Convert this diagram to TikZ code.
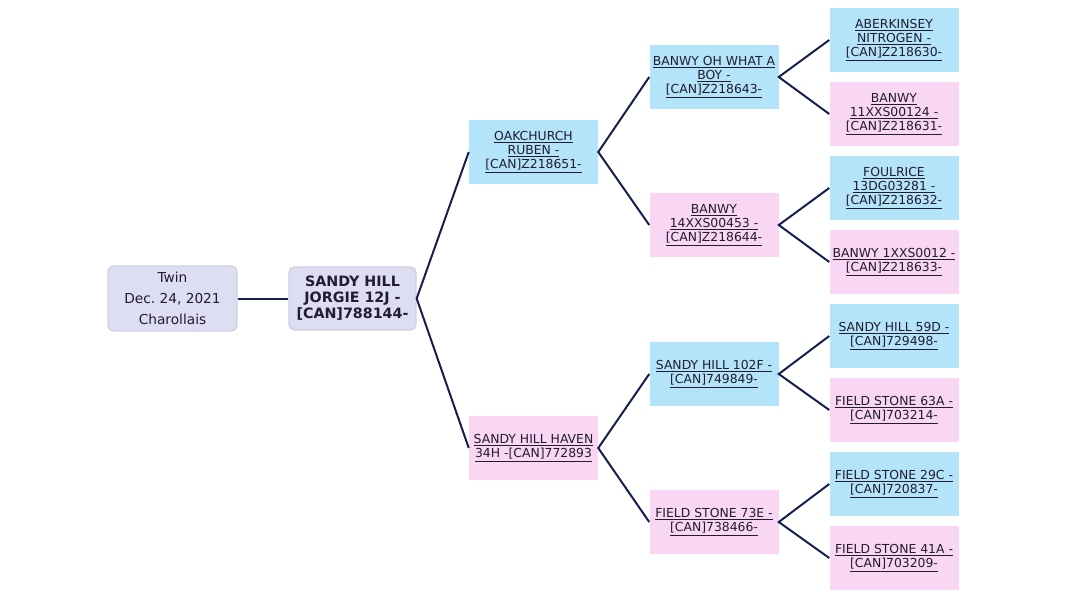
\documentclass[tikz,border=0pt]{standalone}
\usepackage{fontspec}
\setmainfont{DejaVu Sans}
\definecolor{sirecol}{RGB}{180,228,250}
\definecolor{damcol}{RGB}{248,214,244}
\definecolor{rootcol}{RGB}{222,222,242}
\definecolor{rootline}{RGB}{208,208,230}
\definecolor{linkcol}{RGB}{22,32,80}
\definecolor{txtcol}{RGB}{34,28,48}
\newcommand{\ul}[1]{\underline{#1}}
\frenchspacing
\begin{document}
\begin{tikzpicture}[x=0.75pt,y=-0.75pt,
    every node/.style={inner sep=0pt,align=center,text=txtcol},
    animal/.style={minimum width=96.75pt,minimum height=48pt,font=\fontsize{9.3}{10.5}\selectfont},
    sirebox/.style={animal,fill=sirecol},
    dambox/.style={animal,fill=damcol},
    infobox/.style={fill=rootcol,draw=rootline,line width=1pt,rounded corners=4pt},
    link/.style={draw=linkcol,line width=1.5pt}]
  \useasboundingbox (0,0) rectangle (1067,600);

  % subject and its details
  \node[infobox,minimum width=96.75pt,minimum height=48.75pt,font=\fontsize{10.3}{15.75}\selectfont]
    (info) at (172.5,298.5) {Twin\\Dec. 24, 2021\\Charollais};
  \node[infobox,minimum width=95.25pt,minimum height=47.25pt,font=\fontsize{10.7}{12}\selectfont\bfseries]
    (calf) at (352.5,298.5) {SANDY HILL\\JORGIE 12J -\\{[CAN]788144-}};

  % parents
  \node[sirebox] (s) at (533.5,152) {\ul{OAKCHURCH}\\\ul{RUBEN -}\\\ul{[CAN]Z218651-}};
  \node[dambox] (d) at (533.5,448) {\ul{SANDY HILL HAVEN}\\\ul{34H -[CAN]772893}};

  % grandparents
  \node[sirebox] (ss) at (714,77) {\ul{BANWY OH WHAT A}\\\ul{BOY -}\\\ul{[CAN]Z218643-}};
  \node[dambox] (sd) at (714,225) {\ul{BANWY}\\\ul{14XXS00453 -}\\\ul{[CAN]Z218644-}};
  \node[sirebox] (ds) at (714,374) {\ul{SANDY HILL 102F -}\\\ul{[CAN]749849-}};
  \node[dambox] (dd) at (714,522) {\ul{FIELD STONE 73E -}\\\ul{[CAN]738466-}};

  % great grandparents
  \node[sirebox] (sss) at (894,40) {\ul{ABERKINSEY}\\\ul{NITROGEN -}\\\ul{[CAN]Z218630-}};
  \node[dambox] (ssd) at (894,114) {\ul{BANWY}\\\ul{11XXS00124 -}\\\ul{[CAN]Z218631-}};
  \node[sirebox] (sds) at (894,188) {\ul{FOULRICE}\\\ul{13DG03281 -}\\\ul{[CAN]Z218632-}};
  \node[dambox] (sdd) at (894,262) {\ul{BANWY 1XXS0012 -}\\\ul{[CAN]Z218633-}};
  \node[sirebox] (dss) at (894,336) {\ul{SANDY HILL 59D -}\\\ul{[CAN]729498-}};
  \node[dambox] (dsd) at (894,410) {\ul{FIELD STONE 63A -}\\\ul{[CAN]703214-}};
  \node[sirebox] (dds) at (894,484) {\ul{FIELD STONE 29C -}\\\ul{[CAN]720837-}};
  \node[dambox] (ddd) at (894,558) {\ul{FIELD STONE 41A -}\\\ul{[CAN]703209-}};

  % links
  \draw[link] (info.east) -- (calf.west);
  \draw[link] (s.west) -- (calf.east) -- (d.west);
  \draw[link] (ss.west) -- (s.east) -- (sd.west);
  \draw[link] (ds.west) -- (d.east) -- (dd.west);
  \draw[link] (sss.west) -- (ss.east) -- (ssd.west);
  \draw[link] (sds.west) -- (sd.east) -- (sdd.west);
  \draw[link] (dss.west) -- (ds.east) -- (dsd.west);
  \draw[link] (dds.west) -- (dd.east) -- (ddd.west);
\end{tikzpicture}
\end{document}
